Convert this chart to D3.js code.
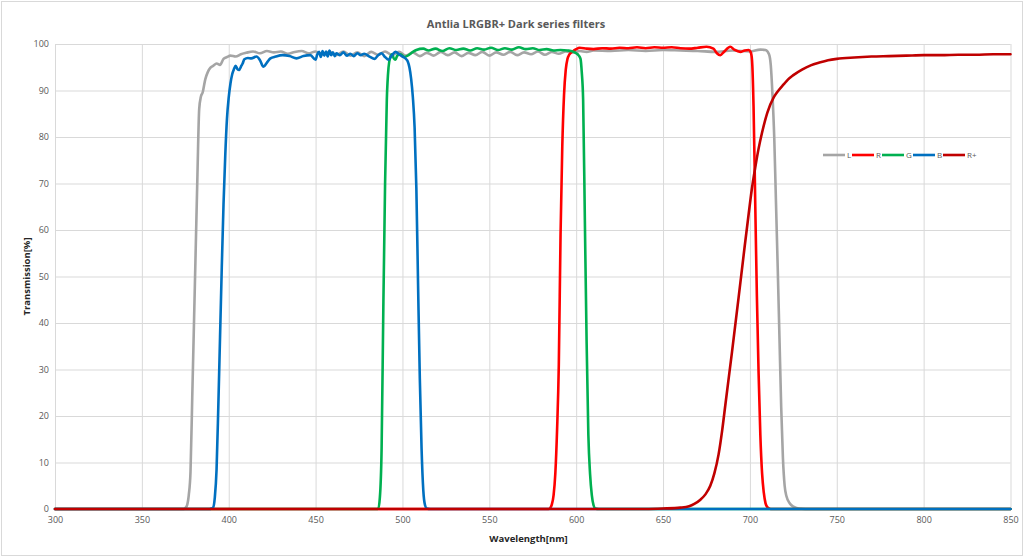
<!DOCTYPE html>
<html>
<head>
<meta charset="utf-8">
<script src="https://cdn.jsdelivr.net/npm/d3@7"></script>
<style>
    body { margin: 0; background: white; }
    svg { display: block; }
</style>
</head>
<body>
<svg id="chart" width="1024" height="557"></svg>
<script>
// axis ticks
const xTicks = [300, 350, 400, 450, 500, 550, 600, 650, 700, 750, 800, 850];
const yTicks = [0, 10, 20, 30, 40, 50, 60, 70, 80, 90, 100];

// L filter
const wlL = [300, 374, 375, 376, 377, 378, 379, 380, 381, 382, 383, 384, 385, 386.5, 388, 389.5, 391, 393, 395, 397, 399, 401, 404, 407,
    410, 414, 418, 422, 426, 430, 434, 438, 442, 446, 450, 454, 458, 462, 466, 470, 474, 478, 482, 486, 490, 494, 498,
    502, 506, 510, 514, 518, 522, 526, 530, 534, 538, 542, 546, 550, 554, 558, 562, 566, 570, 574, 578, 582, 586, 590,
    594, 598, 602, 606, 610, 620, 630, 640, 650, 660, 670, 680, 690, 700, 706, 709, 711, 712, 713, 714, 715, 716, 717,
    718, 719, 720, 721, 723, 725, 728, 732, 850];
const trL = [0, 0, 0.2, 0.8, 3, 8, 24, 40, 56, 72, 86, 88.7, 89.6, 92.4, 94, 94.9, 95.3, 95.8, 95.5, 96.8, 97.2, 97.5, 97.3, 97.8,
    98.1, 98.4, 98.0, 98.5, 98.2, 98.4, 97.9, 98.3, 98.5, 98.0, 98.4, 97.8, 98.3, 97.6, 98.4, 97.5, 98.2, 97.4, 98.3, 97.7, 98.4, 97.6, 98.3,
    97.5, 98.2, 97.4, 98.1, 97.5, 98.3, 97.6, 98.2, 97.4, 98.1, 97.6, 98.3, 97.5, 98.2, 97.7, 98.3, 97.6, 98.2, 97.8, 98.4, 97.7, 98.3, 97.9,
    98.4, 98.2, 98.5, 98.3, 98.6, 98.5, 98.7, 98.5, 98.7, 98.6, 98.5, 98.3, 98.6, 98.4, 98.8, 98.7, 97.8, 95.5, 89, 80, 66, 52, 37,
    22, 11, 5, 2.8, 1.2, 0.5, 0.1, 0, 0];

// R filter
const wlR = [300, 584, 585, 586, 587, 588, 589, 590, 591, 592, 593, 594, 595, 596, 598, 600, 602, 606, 610, 615, 620, 625, 630, 635,
    640, 645, 650, 655, 660, 665, 670, 675, 679, 681, 683, 685, 688.7, 691, 694.5, 697, 699.3, 700.5, 701.2, 702.1, 703.1, 704,
    705, 706, 707, 708, 709, 710, 712, 850];
const trR = [0, 0, 0.2, 1, 3, 7.7, 17, 31, 59, 78, 89, 94.5, 96.8, 97.7, 98.4, 98.9, 99.2, 99.0, 98.9, 99.1, 99.0, 99.2, 99.1, 99.3,
    99.1, 99.3, 99.2, 99.3, 99.1, 99.0, 99.2, 99.4, 99.0, 98.0, 97.6, 98.3, 99.4, 98.8, 98.3, 98.6, 98.7, 98.2, 96.6, 86.5, 65, 46,
    29.2, 16, 7.7, 3.5, 1.2, 0.4, 0, 0];

// G filter
const wlG = [300, 485, 486, 487, 488, 489, 490, 491, 492, 493, 494, 495, 496, 497, 499, 501, 503.5, 506, 508, 512, 515, 519, 523, 527,
    531, 535, 539, 543, 547, 551, 555, 559, 563, 567, 571, 575, 579, 583, 587, 591, 595, 598, 600, 601.5, 602.5, 603.2, 604,
    605, 606, 607, 608, 609, 610, 611, 613, 850];
const trG = [0, 0, 0.1, 2.5, 13, 43.5, 70, 88, 95, 97.2, 97.8, 96.9, 96.6, 97.5, 97.8, 97.2, 97.6, 98.3, 98.7, 99.0, 98.6, 99.0, 98.5, 99.1,
    98.7, 99.0, 98.6, 99.1, 98.8, 99.2, 98.7, 99.1, 98.8, 99.3, 98.9, 99.1, 98.7, 98.9, 98.6, 98.7, 98.6, 98.4, 98.0, 97.5, 96.8, 94, 88,
    62, 36, 16, 7.5, 3, 0.8, 0.1, 0, 0];

// B filter
const wlB = [300, 389, 390, 391, 392, 393, 394, 395, 396, 397, 398, 399, 400, 401, 402, 403, 404, 405, 406, 407, 408, 409, 411, 413,
    416, 418, 420, 422, 424, 427, 431, 435, 439, 443, 447, 450, 451, 452, 453, 454, 455, 456, 457, 458, 459, 460, 461, 462,
    464, 466, 468, 470, 472, 474, 476, 478, 481, 484, 486, 488, 490, 492, 494, 496, 498, 500, 502, 503, 504, 505, 506, 507,
    508, 509, 510, 511, 512, 513, 514, 516, 850];
const trB = [0, 0, 0.1, 0.3, 2.5, 8.5, 22, 37, 52, 65.5, 76, 84, 88.5, 91.5, 93.5, 94.6, 95.3, 94.6, 94.4, 95.1, 95.8, 96.7, 97.0, 96.9,
    97.3, 96.5, 95.1, 96.0, 96.9, 97.3, 97.6, 97.4, 96.9, 97.4, 97.6, 96.6, 97.8, 98.3, 97.2, 98.5, 97.5, 98.4, 97.3, 98.6, 97.6, 98.2, 97.4, 98.0,
    97.6, 98.2, 97.5, 97.9, 97.4, 98.0, 97.6, 97.9, 97.3, 96.8, 97.6, 98.0, 97.2, 96.6, 97.6, 98.3, 97.8, 97.3, 96.8, 96.3, 95, 92.5, 88.5, 82,
    69, 48, 28, 13, 4, 0.8, 0.1, 0, 0];

// R+ filter
const wlRp = [300, 640, 650, 660, 665, 668, 671.5, 674.5, 677.2, 679.5, 682, 684, 686, 689.7, 693.5, 697, 699.3, 701, 703.1, 705, 706.9, 710,
    713.7, 716, 719.4, 722, 725, 730, 735, 740, 745, 750, 760, 770, 780, 790, 800, 810, 820, 830, 840, 850];
const trRp = [0, 0, 0.1, 0.3, 0.6, 1.1, 2.0, 3.2, 5.0, 7.6, 11.8, 16.8, 22.8, 33.8, 45.5, 56.5, 63.5, 68.5, 73.5, 77.5, 80.8, 85.2,
    88.5, 89.8, 91.3, 92.4, 93.3, 94.5, 95.4, 96.0, 96.5, 96.8, 97.1, 97.3, 97.4, 97.5, 97.6, 97.6, 97.7, 97.7, 97.8, 97.8];

const seriesNames = ["L", "R", "G", "B", "R+"];
const seriesColors = ["#A5A5A5", "#FF0000", "#00B050", "#0070C0", "#C00000"];

const series = [
    [wlL, trL], [wlR, trR], [wlG, trG], [wlB, trB], [wlRp, trRp]
].map(([wl, tr], i) => ({
    name: seriesNames[i],
    color: seriesColors[i],
    points: wl.map((w, j) => [w, tr[j]]),
}));

const W = 1024, H = 557;
const margin = { top: 44, right: 13.5, bottom: 48, left: 55 };
const plotW = W - margin.left - margin.right;
const plotH = H - margin.top - margin.bottom;

const textColor = "#595959";
const gridColor = "#D9D9D9";
const font = "'Open Sans', 'Liberation Sans', sans-serif";

const svg = d3.select("#chart");

// chart border
svg.append("rect")
    .attr("x", 1.5).attr("y", 1.5)
    .attr("width", W - 3).attr("height", H - 3)
    .attr("fill", "white")
    .attr("stroke", gridColor)
    .attr("stroke-width", 1);

const plot = svg.append("g").attr("transform", `translate(${margin.left},${margin.top})`);

const xScale = d3.scaleLinear().domain([300, 850]).range([0, plotW]);
const yScale = d3.scaleLinear().domain([0, 100]).range([plotH, 0]);

// grid
plot.append("g")
    .attr("class", "grid")
    .attr("transform", `translate(0,${plotH})`)
    .call(d3.axisBottom(xScale).tickValues(xTicks).tickSize(-plotH).tickFormat(""))
    .call(g => g.select(".domain").remove());
plot.append("g")
    .attr("class", "grid")
    .call(d3.axisLeft(yScale).tickValues(yTicks).tickSize(-plotW).tickFormat(""))
    .call(g => g.select(".domain").remove());
plot.selectAll(".grid line").attr("stroke", gridColor).attr("stroke-width", 1);

// tick labels
const xAxis = plot.append("g")
    .attr("transform", `translate(0,${plotH})`)
    .call(d3.axisBottom(xScale).tickValues(xTicks).tickSize(0).tickPadding(8));
const yAxis = plot.append("g")
    .call(d3.axisLeft(yScale).tickValues(yTicks).tickSize(0).tickPadding(6));
[xAxis, yAxis].forEach(a => {
    a.select(".domain").remove();
    a.selectAll("text")
        .attr("fill", textColor)
        .style("font-family", font)
        .style("font-size", "9px");
});

// lines
const line = d3.line()
    .x(d => xScale(d[0]))
    .y(d => yScale(d[1]))
    .curve(d3.curveMonotoneX);

plot.append("g")
    .selectAll("path")
    .data(series)
    .join("path")
    .attr("d", d => line(d.points))
    .attr("fill", "none")
    .attr("stroke", d => d.color)
    .attr("stroke-width", 2.6)
    .attr("stroke-linejoin", "round")
    .attr("stroke-linecap", "round");

// title and axis labels
svg.append("text")
    .attr("x", 516).attr("y", 28)
    .attr("text-anchor", "middle")
    .attr("fill", textColor)
    .style("font-family", font)
    .style("font-size", "11px")
    .style("font-weight", "bold")
    .text("Antlia LRGBR+ Dark series filters");

svg.append("text")
    .attr("transform", `translate(30,${margin.top + plotH / 2}) rotate(-90)`)
    .attr("text-anchor", "middle")
    .attr("fill", "#262626")
    .style("font-family", font)
    .style("font-size", "9.5px")
    .style("font-weight", "bold")
    .text("Transmission[%]");

svg.append("text")
    .attr("x", 528.5).attr("y", 542)
    .attr("text-anchor", "middle")
    .attr("fill", "#262626")
    .style("font-family", font)
    .style("font-size", "9.5px")
    .style("font-weight", "bold")
    .text("Wavelength[nm]");

// legend
const legend = svg.append("g").attr("transform", "translate(823,155)");
const legendX = [0, 29, 59, 90, 120];
legend.selectAll("g")
    .data(series)
    .join("g")
    .attr("transform", (d, i) => `translate(${legendX[i]},0)`)
    .each(function (d) {
        const g = d3.select(this);
        g.append("line")
            .attr("x1", 0).attr("x2", 22)
            .attr("stroke", d.color)
            .attr("stroke-width", 2.6);
        g.append("text")
            .attr("x", 24).attr("y", 3)
            .attr("fill", textColor)
            .style("font-family", font)
            .style("font-size", "8px")
            .text(d.name);
    });
</script>
</body>
</html>
